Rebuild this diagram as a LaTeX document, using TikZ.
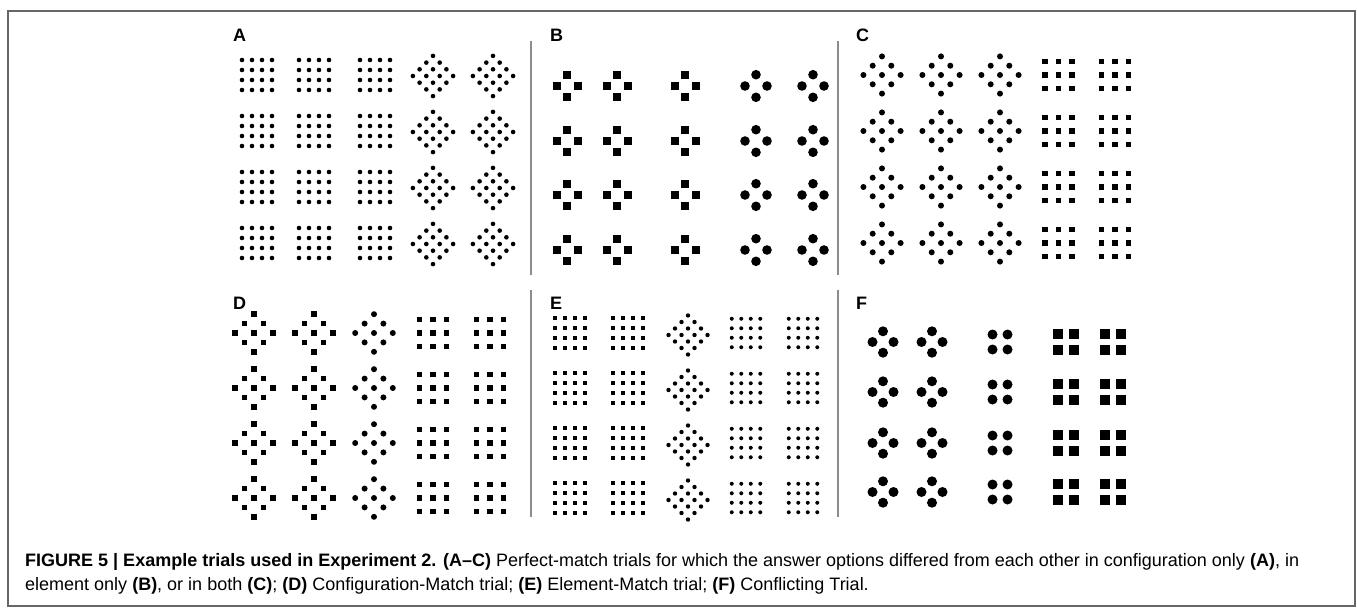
\documentclass[tikz,border=0pt]{standalone}
\usepackage{fontspec}
\setmainfont{Liberation Sans}
\newfontfamily\capfont{Liberation Sans}
\begin{document}
\begin{tikzpicture}[x=1pt,y=-1pt,
  framestyle/.style={draw=black!60,line width=1.2pt},
  seplinestyle/.style={draw=black!45,line width=1.6pt},
  paneltag/.style={font=\fontsize{18}{20}\selectfont\bfseries,anchor=base west,inner sep=0pt},
  captext/.style={font=\capfont\fontsize{18}{20}\selectfont,anchor=base west,inner sep=0pt},
  pics/dotgrid/.style n args={3}{code={
    \pgfmathsetmacro\hh{(#1-1)/2}
    \foreach \a in {1,...,#1}{\foreach \b in {1,...,#1}{
      \fill ({(\a-1-\hh)*#2},{(\b-1-\hh)*#2}) circle[radius=#3];}}}},
  pics/sqgrid/.style n args={3}{code={
    \pgfmathsetmacro\hh{(#1-1)/2}
    \foreach \a in {1,...,#1}{\foreach \b in {1,...,#1}{
      \fill ({(\a-1-\hh)*#2-#3/2},{(\b-1-\hh)*#2-#3/2}) rectangle ++(#3,#3);}}}},
  pics/dotdiam/.style n args={3}{code={
    \pgfmathsetmacro\hh{(#1-1)/2}
    \foreach \a in {1,...,#1}{\foreach \b in {1,...,#1}{
      \fill ({(\a-\b)*#2},{(\a+\b-2-2*\hh)*#2}) circle[radius=#3];}}}},
  pics/sqdiam/.style n args={3}{code={
    \pgfmathsetmacro\hh{(#1-1)/2}
    \foreach \a in {1,...,#1}{\foreach \b in {1,...,#1}{
      \fill ({(\a-\b)*#2-#3/2},{(\a+\b-2-2*\hh)*#2-#3/2}) rectangle ++(#3,#3);}}}},
  pics/pluscirc/.style n args={3}{code={
    \fill (0,-#2) circle[radius=#3] (0,#2) circle[radius=#3]
          (-#1,0) circle[radius=#3] (#1,0) circle[radius=#3];}},
  pics/plussq/.style n args={3}{code={
    \fill (-#3/2,-#2-#3/2) rectangle ++(#3,#3);
    \fill (-#3/2,#2-#3/2) rectangle ++(#3,#3);
    \fill (-#1-#3/2,-#3/2) rectangle ++(#3,#3);
    \fill (#1-#3/2,-#3/2) rectangle ++(#3,#3);}},
  pics/quadcirc/.style n args={2}{code={
    \fill (-#1,-#1) circle[radius=#2] (#1,-#1) circle[radius=#2]
          (-#1,#1) circle[radius=#2] (#1,#1) circle[radius=#2];}},
  pics/quadsq/.style n args={2}{code={
    \foreach \sx in {-1,1}{\foreach \sy in {-1,1}{
      \fill ({\sx*#1-#2/2},{\sy*#1-#2/2}) rectangle ++(#2,#2);}}}}
]
\useasboundingbox (0,0) rectangle (1357,610);
\draw[framestyle] (8,11) rectangle (1355,606);

% separators
\coordinate (s1t) at (531,41); \coordinate (s1b) at (531,275);
\coordinate (s2t) at (838,41); \coordinate (s2b) at (838,275);
\coordinate (s3t) at (531,290); \coordinate (s3b) at (531,517);
\coordinate (s4t) at (838,290); \coordinate (s4b) at (838,517);
\draw[seplinestyle] (s1t) -- (s1b);
\draw[seplinestyle] (s2t) -- (s2b);
\draw[seplinestyle] (s3t) -- (s3b);
\draw[seplinestyle] (s4t) -- (s4b);

% labels
\node[paneltag] (labA) at (233,42) {A};
\node[paneltag] (labB) at (550,42) {B};
\node[paneltag] (labC) at (856,42) {C};
\node[paneltag] (labD) at (233,309) {D};
\node[paneltag] (labE) at (550,309) {E};
\node[paneltag] (labF) at (856,309) {F};

% Panel A
\foreach \y in {75,131,187,243}{
  \foreach \x in {257,314,375}{\pic at (\x,\y) {dotgrid={4}{10}{2.3pt}};}
  \foreach \x in {433,493}{\pic at (\x,\y+1) {dotdiam={4}{6.7}{2.3pt}};}
}
% Panel B
\foreach \y in {86,141,195,250}{
  \foreach \x in {567,617,685}{\pic at (\x,\y) {plussq={10.5}{11}{8}};}
  \foreach \x in {756,813}{\pic at (\x,\y) {pluscirc={11}{11.3}{4.8pt}};}
}
% Panel C
\foreach \y in {75,131,187,243}{
  \foreach \x in {882,941,1000}{\pic at (\x,\y) {dotdiam={3}{9.3}{3pt}};}
  \foreach \x in {1058.5,1115}{\pic at (\x,\y) {sqgrid={3}{13.3}{5.5}};}
}
% Panel D
\foreach \y in {333,388,443,498}{
  \foreach \x in {254,314}{\pic at (\x,\y) {sqdiam={3}{9.4}{5.5}};}
  \pic at (374,\y) {dotdiam={3}{9.4}{3pt}};
  \foreach \x in {433,490}{\pic at (\x,\y) {sqgrid={3}{13.3}{5.5}};}
}
% Panel E
\foreach \y in {333,388,443,498}{
  \foreach \x in {570,628}{\pic at (\x,\y) {sqgrid={4}{10}{4.6}};}
  \pic at (688,\y+2) {dotdiam={4}{6.5}{2.2pt}};
  \foreach \x in {746,803}{\pic at (\x,\y) {dotgrid={4}{9.5}{2pt}};}
}
% Panel F
\foreach \y in {342,392,443,492}{
  \foreach \x in {883,932}{\pic at (\x,\y) {pluscirc={10.5}{10.7}{5pt}};}
  \pic at (1000,\y) {quadcirc={7.5}{5pt}};
  \foreach \x in {1066,1113}{\pic at (\x,\y) {quadsq={8.3}{10}};}
}

% caption
\node[captext] (cap1) at (25,566) {\textbf{FIGURE 5 | Example trials used in Experiment 2. (A–C)} Perfect-match trials for which the answer options differed from each other in configuration only \textbf{(A)}, in};
\node[captext] (cap2) at (25,590) {element only \textbf{(B)}, or in both \textbf{(C)}; \textbf{(D)} Configuration-Match trial; \textbf{(E)} Element-Match trial; \textbf{(F)} Conflicting Trial.};
\end{tikzpicture}
\end{document}
